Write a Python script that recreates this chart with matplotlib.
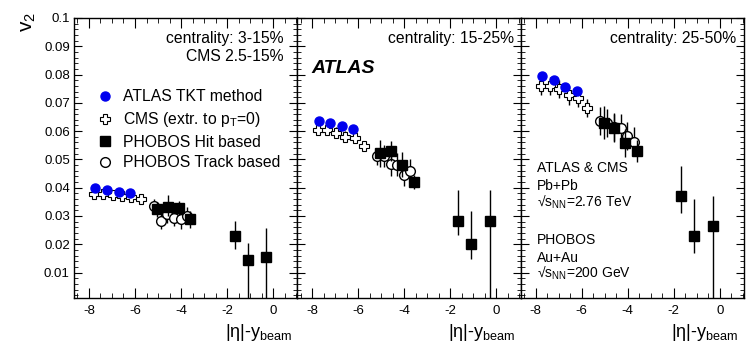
import numpy as np
import matplotlib
matplotlib.use('Agg')
import matplotlib.pyplot as plt
from matplotlib.lines import Line2D
from matplotlib.ticker import MultipleLocator

plt.rcParams['font.family'] = ['Liberation Sans', 'DejaVu Sans']
plt.rcParams['mathtext.fontset'] = 'custom'
plt.rcParams['mathtext.rm'] = 'Liberation Sans'
plt.rcParams['mathtext.it'] = 'Liberation Sans:italic'

# eta - y_beam positions of each data set
atlas_eta = [-7.72, -7.21, -6.71, -6.21]
cms_eta = [-7.77, -7.37, -6.97, -6.56, -6.16, -5.76]
hit_eta = [-5.04, -4.58, -4.10, -3.60, -1.67, -1.10, -0.30]
track_eta = [-5.18, -4.88, -4.59, -4.31, -4.01, -3.74]

# centrality labels
cent_labels = ['centrality: 3-15%\nCMS 2.5-15%', 'centrality: 15-25%', 'centrality: 25-50%']

# v2 values, one list per centrality bin
atlas_v2 = [[0.0398, 0.0392, 0.0386, 0.0380],
            [0.0637, 0.0628, 0.0617, 0.0607],
            [0.0796, 0.0781, 0.0757, 0.0743]]
atlas_err = [0.0005, 0.0009, 0.0012]

cms_v2 = [[0.0377, 0.0376, 0.0374, 0.0371, 0.0367, 0.0360],
          [0.0604, 0.0604, 0.0595, 0.0581, 0.0575, 0.0548],
          [0.0761, 0.0761, 0.0748, 0.0726, 0.0718, 0.0683]]
cms_err = [0.0012, 0.0018, 0.0032]

hit_v2 = [[0.0324, 0.0331, 0.0328, 0.0289, 0.0230, 0.0145, 0.0154],
          [0.0522, 0.0530, 0.0481, 0.0420, 0.0282, 0.0200, 0.0282],
          [0.0630, 0.0610, 0.0559, 0.0530, 0.0371, 0.0230, 0.0265]]
hit_up = [[0.0027, 0.0044, 0.0025, 0.0030, 0.0053, 0.0061, 0.0103],
          [0.0048, 0.0034, 0.0044, 0.0025, 0.0110, 0.0118, 0.0110],
          [0.0058, 0.0050, 0.0050, 0.0040, 0.0104, 0.0130, 0.0104]]
hit_dn = [[0.0027, 0.0030, 0.0025, 0.0030, 0.0047, 0.0150, 0.0160],
          [0.0048, 0.0034, 0.0044, 0.0025, 0.0048, 0.0053, 0.0300],
          [0.0058, 0.0050, 0.0050, 0.0040, 0.0060, 0.0060, 0.0300]]

track_v2 = [[0.0336, 0.0284, 0.0306, 0.0294, 0.0290, 0.0300],
            [0.0512, 0.0512, 0.0483, 0.0481, 0.0445, 0.0458],
            [0.0637, 0.0630, 0.0615, 0.0612, 0.0583, 0.0563]]
track_err = [[0.0025, 0.0030, 0.0030, 0.0030, 0.0035, 0.0030],
             [0.0030, 0.0040, 0.0040, 0.0040, 0.0040, 0.0045],
             [0.0050, 0.0050, 0.0050, 0.0050, 0.0050, 0.0050]]

fig = plt.figure(figsize=(7.47, 3.56), dpi=100)

W, H = 747.0, 356.0
left0, pw = 74.0, 223.3
top, bot = 18.0, 298.0

axes = []
for i in range(3):
    ax = fig.add_axes([(left0 + i * pw) / W, 1 - bot / H, pw / W, (bot - top) / H])
    axes.append(ax)

    ax.errorbar(track_eta, track_v2[i], yerr=track_err[i], fmt='o', ms=7,
                mfc='white', mec='black', mew=1.0, ecolor='black', elinewidth=1.0,
                capsize=0, zorder=3)
    ax.errorbar(hit_eta, hit_v2[i], yerr=[hit_dn[i], hit_up[i]], fmt='s', ms=6.5,
                mfc='black', mec='black', ecolor='black', elinewidth=1.0,
                capsize=0, zorder=4)
    ax.errorbar(cms_eta, cms_v2[i], yerr=cms_err[i], fmt='P', ms=7.5,
                mfc='white', mec='black', mew=0.8, ecolor='black', elinewidth=1.0,
                capsize=0, zorder=3)
    ax.errorbar(atlas_eta, atlas_v2[i], yerr=atlas_err[i], fmt='o', ms=6.5,
                mfc='#0000ee', mec='#0000ee', ecolor='#0000ee', elinewidth=1.0,
                capsize=0, zorder=5)

    ax.set_xlim(-8.65, 1.05)
    ax.set_ylim(0.001, 0.1)
    ax.xaxis.set_major_locator(MultipleLocator(2))
    ax.xaxis.set_minor_locator(MultipleLocator(0.5))
    ax.yaxis.set_major_locator(MultipleLocator(0.01))
    ax.yaxis.set_minor_locator(MultipleLocator(0.002))
    ax.tick_params(which='both', direction='in', top=True, right=True, labelsize=9.5)
    ax.tick_params(axis='x', which='major', length=7, pad=5)
    ax.tick_params(axis='x', which='minor', length=3.5)
    ax.tick_params(axis='y', which='major', length=6, pad=3)
    ax.tick_params(axis='y', which='minor', length=3)
    ax.set_xticks([-8, -6, -4, -2, 0])
    ax.set_xticklabels(['-8', '-6', '-4', '-2', '0'])
    if i == 0:
        ax.set_yticks([0.01, 0.02, 0.03, 0.04, 0.05, 0.06, 0.07, 0.08, 0.09, 0.1])
        ax.set_yticklabels(['0.01', '0.02', '0.03', '0.04', '0.05', '0.06',
                            '0.07', '0.08', '0.09', '0.1'])
    else:
        ax.tick_params(axis='y', labelleft=False)
    for s in ax.spines.values():
        s.set_linewidth(1.0)

    ax.text(0.976, -0.085, '|η|-y$_{\\mathrm{beam}}$', transform=ax.transAxes,
            ha='right', va='top', fontsize=13)

# centrality labels
axes[0].text(0.936, 0.955, cent_labels[0], transform=axes[0].transAxes,
             ha='right', va='top', fontsize=11.3, linespacing=1.3)
axes[1].text(0.970, 0.955, cent_labels[1], transform=axes[1].transAxes,
             ha='right', va='top', fontsize=11.3)
axes[2].text(0.967, 0.955, cent_labels[2], transform=axes[2].transAxes,
             ha='right', va='top', fontsize=11.3)

axes[1].text(0.065, 0.82, 'ATLAS', transform=axes[1].transAxes, ha='left',
             va='center', fontsize=14, fontweight='bold', fontstyle='italic')

info = [('ATLAS & CMS', 0.464), ('Pb+Pb', 0.401),
        ('√s$_{\\mathrm{NN}}$=2.76 TeV', 0.343),
        ('PHOBOS', 0.207), ('Au+Au', 0.143),
        ('√s$_{\\mathrm{NN}}$=200 GeV', 0.089)]
for txt, yy in info:
    axes[2].text(0.072, yy, txt, transform=axes[2].transAxes, ha='left',
                 va='center', fontsize=10)

# legend
handles = [Line2D([], [], ls='none', marker='o', ms=6.5, mfc='#0000ee', mec='#0000ee'),
           Line2D([], [], ls='none', marker='P', ms=7.5, mfc='white', mec='black', mew=0.8),
           Line2D([], [], ls='none', marker='s', ms=6.5, mfc='black', mec='black'),
           Line2D([], [], ls='none', marker='o', ms=7, mfc='white', mec='black', mew=1.0)]
labels = ['ATLAS TKT method', 'CMS (extr. to p$_{\\mathrm{T}}$=0)',
          'PHOBOS Hit based', 'PHOBOS Track based']
axes[0].legend(handles, labels, loc='upper left', bbox_to_anchor=(0.11, 0.745),
               frameon=False, fontsize=11.3, handlelength=0.8, handletextpad=0.75,
               labelspacing=0.36, borderpad=0, borderaxespad=0)

fig.text(0.038, 0.965, 'v$_2$', rotation=90, ha='center', va='top', fontsize=15)

fig.savefig('out.png', dpi=100)
